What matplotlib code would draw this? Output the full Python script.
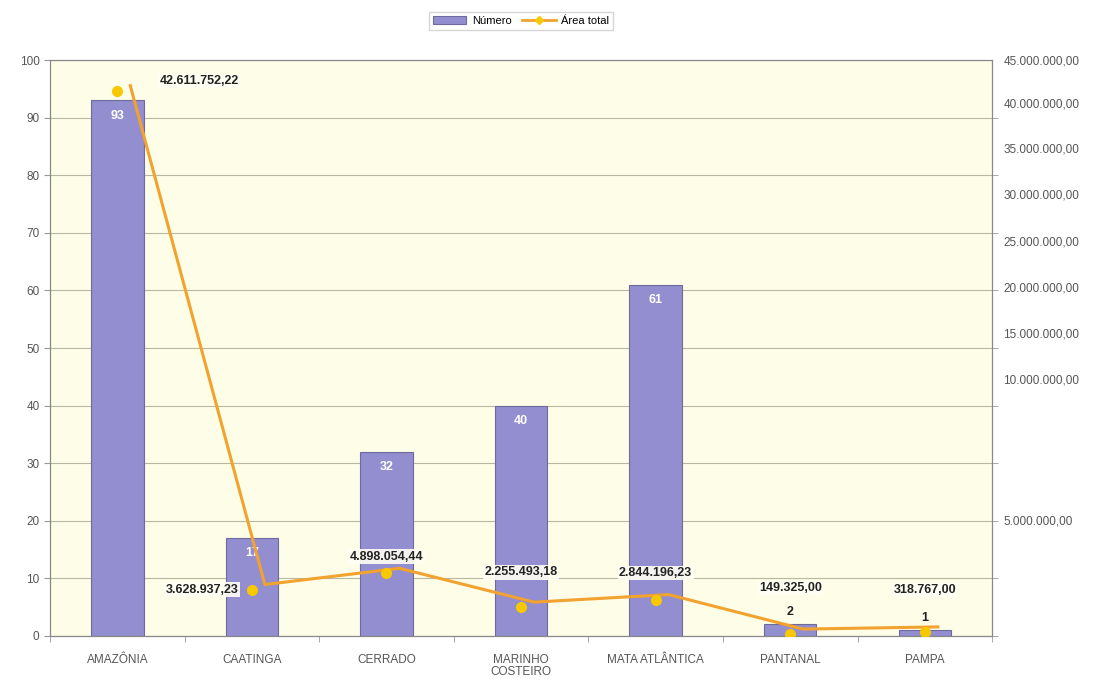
import numpy as np
import matplotlib
matplotlib.use('Agg')
import matplotlib.pyplot as plt
import matplotlib.transforms as mtransforms
from matplotlib.ticker import FixedLocator, MultipleLocator
from matplotlib.lines import Line2D

plt.rcParams['font.family'] = ['Liberation Sans', 'DejaVu Sans']

# Data
categories = ['AMAZÔNIA', 'CAATINGA', 'CERRADO', 'MARINHO\nCOSTEIRO',
              'MATA ATLÂNTICA', 'PANTANAL', 'PAMPA']
numero = [93, 17, 32, 40, 61, 2, 1]
area_total = [42611752.22, 3628937.23, 4898054.44, 2255493.18,
              2844196.23, 149325.00, 318767.00]
area_labels = ['42.611.752,22', '3.628.937,23', '4.898.054,44', '2.255.493,18',
               '2.844.196,23', '149.325,00', '318.767,00']
# the right-axis labels sit where the original printed them
right_tick_values = [9.09e6, 20.07e6, 23.68e6, 27.28e6, 30.9e6, 34.5e6, 38.1e6, 41.63e6, 45.0e6]
right_tick_labels = ['5.000.000,00', '10.000.000,00', '15.000.000,00', '20.000.000,00',
                     '25.000.000,00', '30.000.000,00', '35.000.000,00', '40.000.000,00',
                     '45.000.000,00']

bar_color = '#938ECF'
line_color = '#F2A22E'
marker_color = '#F8C800'
grid_color = '#B8B8A0'
tick_color = '#555555'

fig = plt.figure(figsize=(11.11, 6.88), dpi=100)
ax = fig.add_axes([0.045, 0.0756, 0.848, 0.837])
ax.set_facecolor('#FEFDE8')
x = np.arange(len(categories))

bars = ax.bar(x, numero, width=0.39, color=bar_color, edgecolor='#6E6A9E', linewidth=0.8,
              zorder=2, label='Número')
ax.set_xlim(-0.5, len(categories) - 0.5)
ax.set_ylim(0, 100)
ax.yaxis.set_major_locator(MultipleLocator(10))
ax.grid(axis='y', color=grid_color, linewidth=0.8, zorder=0)
ax.set_axisbelow(True)
ax.set_xticks(x)
ax.set_xticklabels(categories, fontsize=8.5, color=tick_color, linespacing=1.0)
ax.xaxis.set_minor_locator(FixedLocator(np.arange(-0.5, len(categories), 1.0)))
ax.tick_params(axis='x', which='major', length=0, pad=13)
ax.tick_params(axis='x', which='minor', length=4, color='#999999')
ax.tick_params(axis='y', labelsize=8.5, labelcolor=tick_color, length=4, color='#999999')
for s in ax.spines.values():
    s.set_color('#888888')

# bar value labels
for xi, v in zip(x, numero):
    if v > 10:
        ax.annotate(str(v), (xi, v), xytext=(0, -11), textcoords='offset points',
                    ha='center', va='center', color='white', fontsize=9, fontweight='bold')
    else:
        ax.annotate(str(v), (xi, v), xytext=(0, 9), textcoords='offset points',
                    ha='center', va='center', color='#222222', fontsize=9, fontweight='bold')

# secondary axis
ax2 = ax.twinx()
ax2.set_ylim(0, 45e6)
ax2.yaxis.set_major_locator(FixedLocator(right_tick_values))
ax2.set_yticklabels(right_tick_labels)
ax2.yaxis.set_minor_locator(FixedLocator(np.linspace(0, 45e6, 11)))
ax2.tick_params(axis='y', which='major', length=0, labelsize=8.5, labelcolor=tick_color, pad=8)
ax2.tick_params(axis='y', which='minor', length=4, color='#999999')
for s in ax2.spines.values():
    s.set_color('#888888')

# the line is printed slightly shifted from its markers in the original
shifted = mtransforms.offset_copy(ax2.transData, fig=fig, x=13, y=5, units='dots')
ax2.plot(x, area_total, color=line_color, linewidth=2.2, transform=shifted, zorder=3)
ax2.plot(x, area_total, linestyle='none', marker='o', markersize=7, color=marker_color, zorder=4)

box = dict(boxstyle='square,pad=0.1', facecolor='#FFFFF4', edgecolor='none', alpha=0.9)
offsets = [(59, 7), (-36, 0), (0, 12), (0, 25), (0, 19), (0, 33), (0, 30)]
for xi, v, lab, (dx, dy) in zip(x, area_total, area_labels, offsets):
    ax2.annotate(lab, (xi, v), xytext=(dx, dy), textcoords='offset points', ha='center',
                 va='center', fontsize=9, fontweight='bold', color='#222222', bbox=box, zorder=5)

# legend
handles = [bars, Line2D([], [], color=line_color, linewidth=2, marker='D', markersize=4,
                        markerfacecolor=marker_color, markeredgecolor=marker_color)]
fig.legend(handles, ['Número', 'Área total'], loc='center', bbox_to_anchor=(0.469, 0.97),
           ncol=2, fontsize=8, frameon=True, edgecolor='#CCCCCC', fancybox=False,
           handlelength=3.0, handleheight=0.8, columnspacing=1.0, handletextpad=0.5,
           borderpad=0.35)

fig.savefig('out.png', dpi=100)
